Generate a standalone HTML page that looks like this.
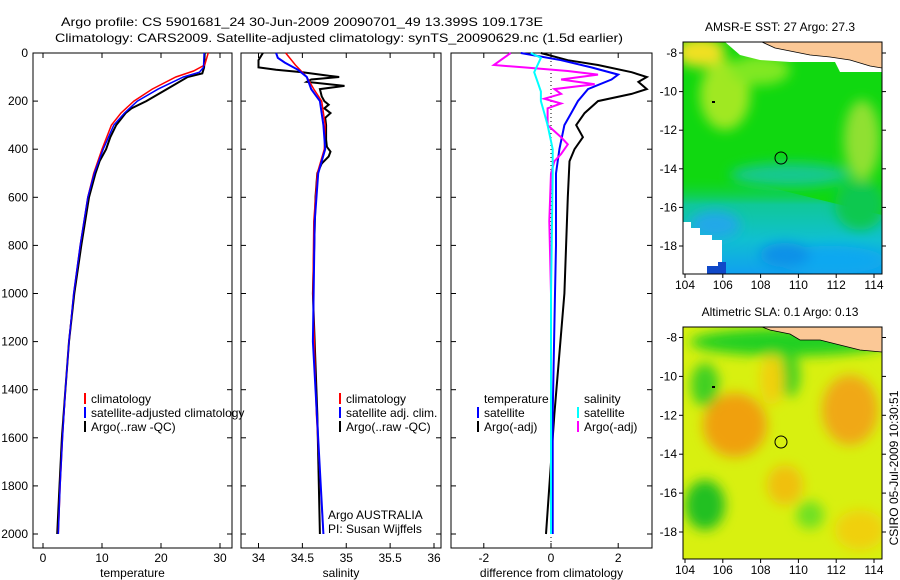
<!DOCTYPE html>
<html><head><meta charset="utf-8"><style>
body{margin:0;background:#fff}
svg{display:block;font-family:"Liberation Sans",sans-serif;font-size:12px}
</style></head><body>
<svg id="chart" width="900" height="580" xmlns="http://www.w3.org/2000/svg">
<defs>
<filter id="blur" x="-20%" y="-20%" width="140%" height="140%"><feGaussianBlur stdDeviation="6"/></filter>
<linearGradient id="sstLow" x1="0" y1="0" x2="0" y2="1">
<stop offset="0" stop-color="#10d810" stop-opacity="0"/>
<stop offset="0.3" stop-color="#10c898"/>
<stop offset="0.65" stop-color="#10c0d0"/>
<stop offset="1" stop-color="#10a0f0"/>
</linearGradient>
<clipPath id="m1clip"><rect x="683" y="42" width="199" height="232"/></clipPath>
<clipPath id="m2clip"><rect x="683" y="327" width="199" height="232"/></clipPath>
</defs>
<text x="61" y="26" textLength="482" lengthAdjust="spacingAndGlyphs">Argo profile: CS 5901681_24 30-Jun-2009 20090701_49 13.399S 109.173E</text>
<text x="55" y="42" textLength="568" lengthAdjust="spacingAndGlyphs">Climatology: CARS2009. Satellite-adjusted climatology: synTS_20090629.nc (1.5d earlier)</text>

<g id="maps">
<g clip-path="url(#m1clip)">
<rect x="683" y="42" width="199" height="232" fill="#10d810"/>
<polygon points="683,175 760,185 882,215 882,274 683,274" fill="url(#sstLow)"/>
<g filter="url(#blur)">
<ellipse cx="700" cy="52" rx="25" ry="15" fill="#f0e020"/>
<ellipse cx="725" cy="95" rx="25" ry="35" fill="#a0e820"/>
<ellipse cx="760" cy="70" rx="30" ry="15" fill="#80e820"/>
<ellipse cx="862" cy="140" rx="18" ry="40" fill="#90e030"/>
<ellipse cx="790" cy="175" rx="60" ry="12" fill="#18c890"/>
<ellipse cx="715" cy="225" rx="25" ry="14" fill="#20a8e8"/>
<ellipse cx="830" cy="260" rx="55" ry="14" fill="#10a8f0"/>
<ellipse cx="785" cy="255" rx="25" ry="12" fill="#1090e8"/>
<ellipse cx="860" cy="205" rx="25" ry="25" fill="#10c850"/>
</g>
<polygon points="725,42 882,42 882,72 840,72 835,62 790,62 760,60 740,55" fill="#fff"/>
<polygon points="683,222 691,222 691,228 700,228 700,235 712,235 712,240 722,240 722,274 683,274" fill="#fff"/>
<polygon points="707,274 707,266 718,266 718,262 726,262 726,274" fill="#1048c8"/>
<polygon points="762,42 882,42 882,68 870,66 850,60 830,57 810,55 790,51 775,48" fill="#fbc896" stroke="#000" stroke-width="0.8"/>
<circle cx="781" cy="158" r="6" fill="none" stroke="#000" stroke-width="1"/>
<rect x="712" y="101" width="3" height="2" fill="#000"/>
</g>
<rect x="683" y="42" width="199" height="232" fill="none" stroke="#000"/>
<text x="780" y="31" text-anchor="middle">AMSR-E SST: 27 Argo: 27.3</text>

<g clip-path="url(#m2clip)">
<rect x="683" y="327" width="199" height="232" fill="#d8f010"/>
<g filter="url(#blur)">
<ellipse cx="790" cy="342" rx="100" ry="14" fill="#20d020"/>
<ellipse cx="705" cy="385" rx="14" ry="22" fill="#40d020"/>
<ellipse cx="735" cy="425" rx="32" ry="32" fill="#f0a010"/>
<ellipse cx="850" cy="410" rx="28" ry="35" fill="#f0a818"/>
<ellipse cx="790" cy="375" rx="10" ry="22" fill="#40d020"/>
<ellipse cx="772" cy="380" rx="12" ry="25" fill="#f0d010"/>
<ellipse cx="705" cy="505" rx="20" ry="25" fill="#20c020"/>
<ellipse cx="810" cy="515" rx="14" ry="14" fill="#70e020"/>
<ellipse cx="785" cy="485" rx="18" ry="20" fill="#f0c010"/>
<ellipse cx="860" cy="530" rx="25" ry="20" fill="#f0d010"/>
</g>
<polygon points="762,327 882,327 882,352 860,350 840,345 820,340 800,340 790,334 770,330" fill="#fbc896" stroke="#000" stroke-width="0.8"/>
<circle cx="781" cy="442" r="6" fill="none" stroke="#000" stroke-width="1"/>
<rect x="712" y="386" width="3" height="2" fill="#000"/>
</g>
<rect x="683" y="327" width="199" height="232" fill="none" stroke="#000"/>
<text x="780" y="316" text-anchor="middle">Altimetric SLA: 0.1 Argo: 0.13</text>
<text transform="translate(898,468) rotate(-90)" text-anchor="middle">CSIRO 05-Jul-2009 10:30:51</text>
</g>
</svg>
<script>
// ---- data ----
const depthTicks=[0,200,400,600,800,1000,1200,1400,1600,1800,2000];
const tempTicks=[0,10,20,30];
const salTicks=[34,34.5,35,35.5,36];
const diffTicks=[-2,0,2];
const lonTicks=[104,106,108,110,112,114];
const latTicks=[-8,-10,-12,-14,-16,-18];
const tempClimDepth=[0,50,75,100,150,200,250,300,400,500,600,800,1000,1200,1400,1600,1800,2000];
const tempClim=[28,27.4,25.5,22.5,18.5,15.4,13.2,11.6,10,8.6,7.6,6.3,5.2,4.4,3.8,3.3,2.9,2.6];
const tempSatDepth=[0,60,80,100,150,200,250,300,400,500,600,800,1000,1200,1400,1600,1800,2000];
const tempSat=[27.3,27.2,26.5,23.8,19.5,16,13.8,12,10.2,8.7,7.6,6.3,5.2,4.4,3.8,3.3,2.9,2.6];
const tempArgoDepth=[0,60,85,100,150,200,230,250,300,350,400,450,500,600,800,1000,1200,1400,1600,1800,2000];
const tempArgo=[27.4,27.3,27,24.5,21,17.5,15,14,12.4,11.4,10.7,9.6,8.9,7.8,6.5,5.3,4.4,3.8,3.2,2.8,2.4];
const salDepth=[0,50,100,150,200,300,400,500,700,1000,1500,2000];
const salClim=[34.31,34.42,34.55,34.63,34.72,34.76,34.75,34.67,34.63,34.62,34.66,34.74];
const salSatDepth=[0,20,40,70,100,150,200,300,400,500,700,1200,2000];
const salSat=[34.2,34.22,34.3,34.45,34.55,34.6,34.7,34.74,34.76,34.68,34.64,34.62,34.74];
const salArgoDepth=[0,30,60,70,80,95,100,110,120,137,150,180,200,215,230,250,270,300,360,390,410,430,460,500,600,1000,1500,2000];
const salArgo=[34.05,34,34,34.2,34.5,34.8,34.92,34.6,34.55,34.98,34.7,34.72,34.75,34.8,34.75,34.82,34.76,34.77,34.77,34.78,34.82,34.8,34.72,34.67,34.65,34.62,34.67,34.7];
const dTempSatDepth=[0,30,60,90,110,150,200,250,300,400,500,800,1000,1500,2000];
const dTempSat=[-0.9,0.3,1.2,2.0,1.8,1.1,0.8,0.6,0.4,0.25,0.15,0.15,0.12,0.05,0.05];
const dTempArgoDepth=[0,30,50,80,100,120,150,170,200,250,300,350,400,450,600,1000,1500,2000];
const dTempArgo=[-0.3,0.5,1.4,2.4,2.85,2.6,2.85,2.4,1.4,1.0,0.75,0.95,0.7,0.55,0.5,0.4,0.1,-0.15];
const dSalSatDepth=[0,20,50,80,120,160,200,250,300,400,500,1000,2000];
const dSalSat=[-0.6,-0.3,-0.4,-0.5,-0.4,-0.3,-0.3,-0.2,-0.1,0.05,0.05,0,0];
const dSalArgoDepth=[0,30,50,60,75,90,110,130,150,170,190,210,230,260,300,350,380,420,450,500,700,1000];
const dSalArgo=[-1.2,-1.5,-1.7,-0.8,0.5,1.4,0.3,1.3,0.1,0.3,-0.2,0.3,-0.1,-0.1,-0.1,0.3,0.5,0.3,0.1,0,-0.05,0];

// ---- axes ----
const Y0=53, YS=0.2405;
const yD=d=>Y0+d*YS;
const xT=v=>43+5.9*v;
const xS=v=>258.5+87.75*(v-34);
const xDf=v=>551+33.6*v;
const m1x=v=>685+18.9*(v-104), m1y=v=>53+19.3*(-8-v);
const m2y=v=>337.5+19.45*(-8-v);
const svg=document.getElementById('chart');
const NS='http://www.w3.org/2000/svg';
function mk(tag,attrs,parent){const e=document.createElementNS(NS,tag);for(const k in attrs)e.setAttribute(k,attrs[k]);(parent||svg).appendChild(e);return e;}
function txt(x,y,s,anchor){const t=mk('text',{x:x,y:y,'text-anchor':anchor||'start'});t.textContent=s;return t;}

const panels=[{x0:33,x1:232,name:'temperature-panel',title:'temperature',ticks:tempTicks,fx:xT},
{x0:241,x1:441,name:'salinity-panel',title:'salinity',ticks:salTicks,fx:xS},
{x0:451,x1:652,name:'difference-panel',title:'difference from climatology',ticks:diffTicks,fx:xDf}];
panels.forEach((p,i)=>{
  const r=mk('rect',{x:p.x0,y:53,width:p.x1-p.x0,height:495,fill:'none',stroke:'#000'});
  
  
  p.ticks.forEach(v=>{
    const x=p.fx(v);
    mk('line',{x1:x,x2:x,y1:548,y2:543,stroke:'#000'});
    mk('line',{x1:x,x2:x,y1:53,y2:58,stroke:'#000'});
    const t=txt(x,562,String(v),'middle');
    
    
  });
  depthTicks.forEach(d=>{
    mk('line',{x1:p.x0,x2:p.x0+5,y1:yD(d),y2:yD(d),stroke:'#000'});
    mk('line',{x1:p.x1,x2:p.x1-5,y1:yD(d),y2:yD(d),stroke:'#000'});
  });
  const t=txt((p.x0+p.x1)/2,577,p.title,'middle');
  
  
});
depthTicks.forEach(d=>{
  const t=txt(28,yD(d)+4,String(d),'end');
  
  
});
const zl=mk('line',{x1:xDf(0),x2:xDf(0),y1:53,y2:548,stroke:'#000','stroke-dasharray':'1,3'});



function series(depths,vals,fx,color,w,name){
  const pts=depths.map((d,i)=>fx(vals[i]).toFixed(1)+','+yD(d).toFixed(1)).join(' ');
  const pl=mk('polyline',{points:pts,fill:'none',stroke:color,'stroke-width':w});
  
  
}
series(tempArgoDepth,tempArgo,xT,'#000',2,'temp-argo-line');
series(tempClimDepth,tempClim,xT,'#f00',1.5,'temp-climatology-line');
series(tempSatDepth,tempSat,xT,'#00f',1.5,'temp-satellite-line');
series(salArgoDepth,salArgo,xS,'#000',2,'salinity-argo-line');
series(salDepth,salClim,xS,'#f00',1.5,'salinity-climatology-line');
series(salSatDepth,salSat,xS,'#00f',2,'salinity-satellite-line');
series(dTempArgoDepth,dTempArgo,xDf,'#000',2,'diff-temp-argo-line');
series(dTempSatDepth,dTempSat,xDf,'#00f',2,'diff-temp-satellite-line');
series(dSalArgoDepth,dSalArgo,xDf,'#f0f',2,'diff-sal-argo-line');
series(dSalSatDepth,dSalSat,xDf,'#0ff',2,'diff-sal-satellite-line');

function legend(x,y,color,label){
  if(color){const b=mk('rect',{x:x,y:y-10,width:2,height:11,fill:color});
    
    }
  const t=txt(x+7,y,label);
  
  
}
legend(84,403,'#f00','climatology');
legend(84,417,'#00f','satellite-adjusted climatology');
legend(84,431,'#000','Argo(..raw -QC)');
legend(339,403,'#f00','climatology');
legend(339,417,'#00f','satellite adj. clim.');
legend(339,431,'#000','Argo(..raw -QC)');
legend(477,403,null,'temperature');
legend(477,417,'#00f','satellite');
legend(477,431,'#000','Argo(-adj)');
legend(577,403,null,'salinity');
legend(577,417,'#0ff','satellite');
legend(577,431,'#f0f','Argo(-adj)');
const t1=txt(328,519,'Argo AUSTRALIA');


const t2=txt(328,533,'PI: Susan Wijffels');



[[42,274,m1y],[327,559,m2y]].forEach(([top,bot,fy])=>{
  lonTicks.forEach(v=>{
    const x=m1x(v);
    mk('line',{x1:x,x2:x,y1:bot,y2:bot+4,stroke:'#000'});
    const t=txt(x,bot+15,String(v),'middle');
    
    
  });
  latTicks.forEach(v=>{
    const y=fy(v);
    mk('line',{x1:679,x2:683,y1:y,y2:y,stroke:'#000'});
    mk('line',{x1:882,x2:886,y1:y,y2:y,stroke:'#000'});
    const t=txt(677,y+4,String(v),'end');
    
    
  });
});
</script>
</body></html>
